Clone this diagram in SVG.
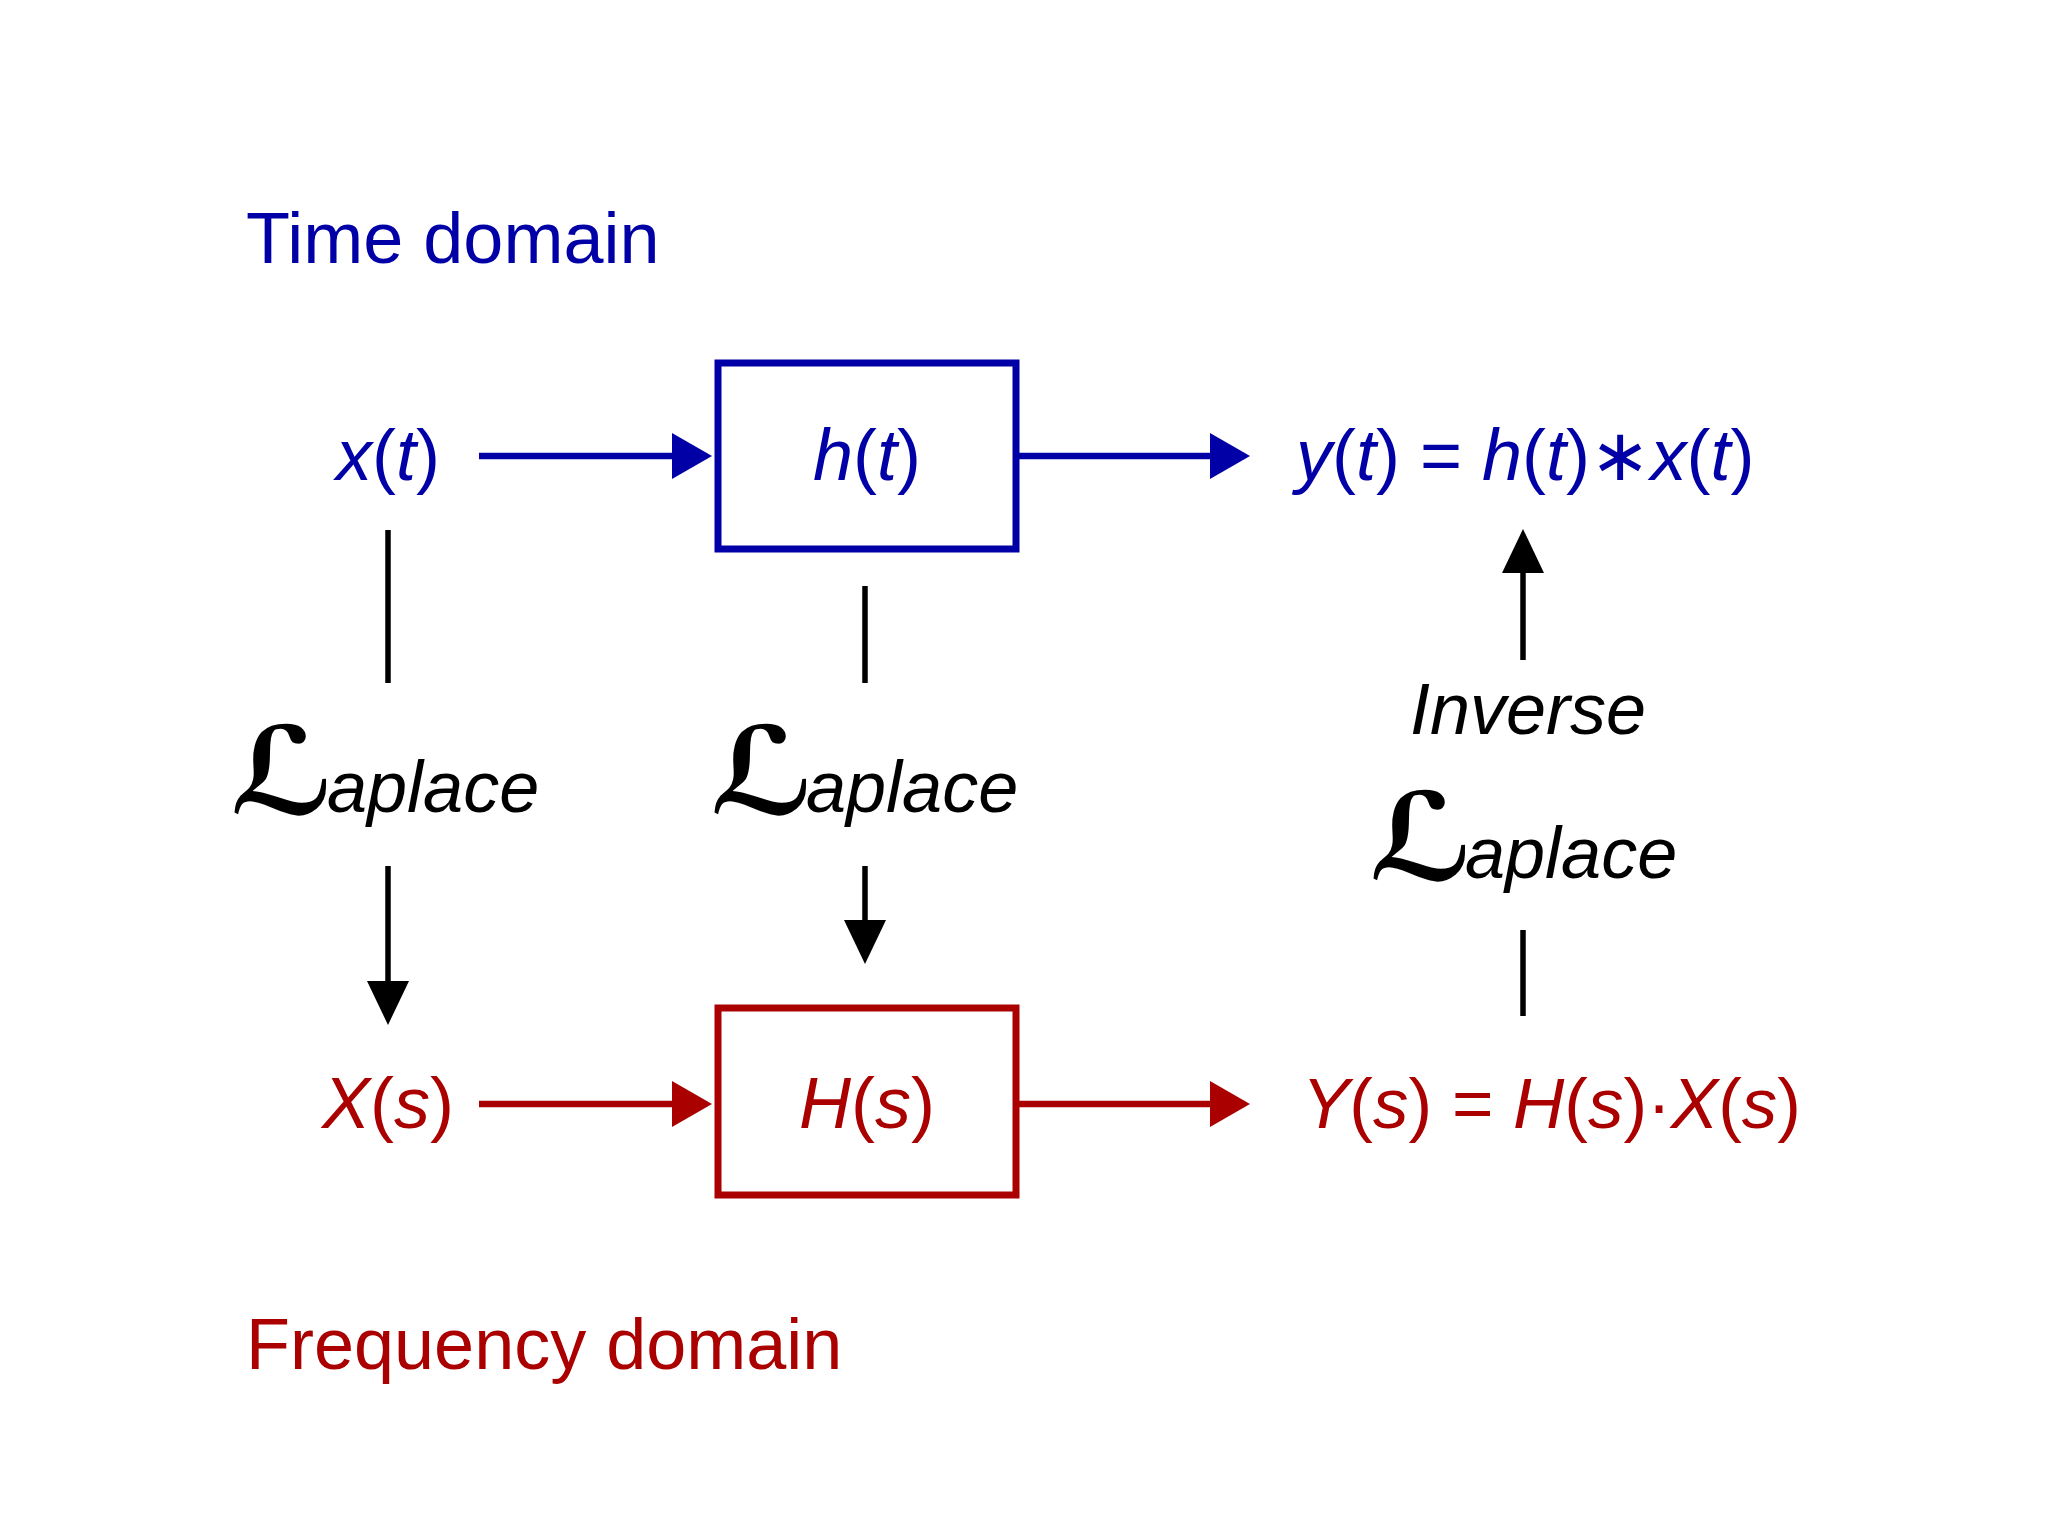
<svg xmlns="http://www.w3.org/2000/svg" width="2048" height="1536" viewBox="0 0 2048 1536">
<style>
.t{font-family:"Liberation Sans",Arial,sans-serif;font-size:72px}
.i{font-style:italic}
.blue{fill:#0000A6}
.red{fill:#AA0000}
.blk{fill:#000}
.box{fill:#fff;stroke-width:7}
.cb{stroke:#0000A6;stroke-width:6.5;fill:none}
.cr{stroke:#AA0000;stroke-width:6.5;fill:none}
.ck{stroke:#000;stroke-width:5.5;fill:none}
.scr{font-family:"DejaVu Serif","DejaVu Sans",serif;font-size:122px;font-style:italic;font-weight:bold}
.op{font-family:"DejaVu Sans",sans-serif;font-style:normal}
</style>
<defs>
<marker id="ab" markerUnits="userSpaceOnUse" markerWidth="40" markerHeight="46" refX="20" refY="23" orient="auto"><path d="M0,0 L40,23 L0,46 z" fill="#0000A6"/></marker>
<marker id="ar" markerUnits="userSpaceOnUse" markerWidth="40" markerHeight="46" refX="20" refY="23" orient="auto"><path d="M0,0 L40,23 L0,46 z" fill="#AA0000"/></marker>
<marker id="ak" markerUnits="userSpaceOnUse" markerWidth="44" markerHeight="42" refX="20" refY="21" orient="auto"><path d="M0,0 L44,21 L0,42 z" fill="#000"/></marker>
</defs>
<rect width="2048" height="1536" fill="#fff"/>

<g id="connectors">
<line class="cb" x1="479" y1="456" x2="692" y2="456" marker-end="url(#ab)"/>
<line class="cb" x1="1019" y1="456" x2="1230" y2="456" marker-end="url(#ab)"/>
<line class="cr" x1="479" y1="1104" x2="692" y2="1104" marker-end="url(#ar)"/>
<line class="cr" x1="1019" y1="1104" x2="1230" y2="1104" marker-end="url(#ar)"/>
<line class="ck" x1="388" y1="530" x2="388" y2="683"/>
<line class="ck" x1="388" y1="866" x2="388" y2="1001" marker-end="url(#ak)"/>
<line class="ck" x1="865" y1="586" x2="865" y2="683"/>
<line class="ck" x1="865" y1="866" x2="865" y2="940" marker-end="url(#ak)"/>
<line class="ck" x1="1523" y1="930" x2="1523" y2="1016"/>
<line class="ck" x1="1523" y1="660" x2="1523" y2="553" marker-end="url(#ak)"/>
</g>

<g id="label-time"><text class="t blue" x="246" y="263">Time domain</text></g>
<g id="label-freq"><text class="t red" x="246" y="1369">Frequency domain</text></g>

<g id="node-xt"><text class="t blue" x="388" y="480" text-anchor="middle"><tspan class="i">x</tspan>(<tspan class="i">t</tspan>)</text></g>
<g id="node-ht"><rect class="box" x="718" y="363" width="298" height="186" stroke="#0000A6"/><text class="t blue" x="867" y="480" text-anchor="middle"><tspan class="i">h</tspan>(<tspan class="i">t</tspan>)</text></g>
<g id="node-yt"><text class="t blue" x="1296" y="480"><tspan class="i">y</tspan>(<tspan class="i">t</tspan>) = <tspan class="i">h</tspan>(<tspan class="i">t</tspan>)<tspan class="op">∗</tspan><tspan class="i">x</tspan>(<tspan class="i">t</tspan>)</text></g>

<g id="node-xs"><text class="t red" x="388" y="1128" text-anchor="middle"><tspan class="i">X</tspan>(<tspan class="i">s</tspan>)</text></g>
<g id="node-hs"><rect class="box" x="718" y="1008" width="298" height="187" stroke="#AA0000"/><text class="t red" x="867" y="1128" text-anchor="middle"><tspan class="i">H</tspan>(<tspan class="i">s</tspan>)</text></g>
<g id="node-ys"><text class="t red" x="1302" y="1128" style="font-size:71px"><tspan class="i">Y</tspan>(<tspan class="i">s</tspan>) = <tspan class="i">H</tspan>(<tspan class="i">s</tspan>)·<tspan class="i">X</tspan>(<tspan class="i">s</tspan>)</text></g>

<g id="laplace-left"><text class="scr blk" x="230" y="814">ℒ</text><text class="t i blk" x="327" y="812">aplace</text></g>
<g id="laplace-mid"><text class="scr blk" x="710" y="814">ℒ</text><text class="t i blk" x="806" y="812">aplace</text></g>
<g id="laplace-inv"><text class="t i blk" x="1410" y="734">Inverse</text><text class="scr blk" x="1369" y="880">ℒ</text><text class="t i blk" x="1465" y="878">aplace</text></g>
</svg>
